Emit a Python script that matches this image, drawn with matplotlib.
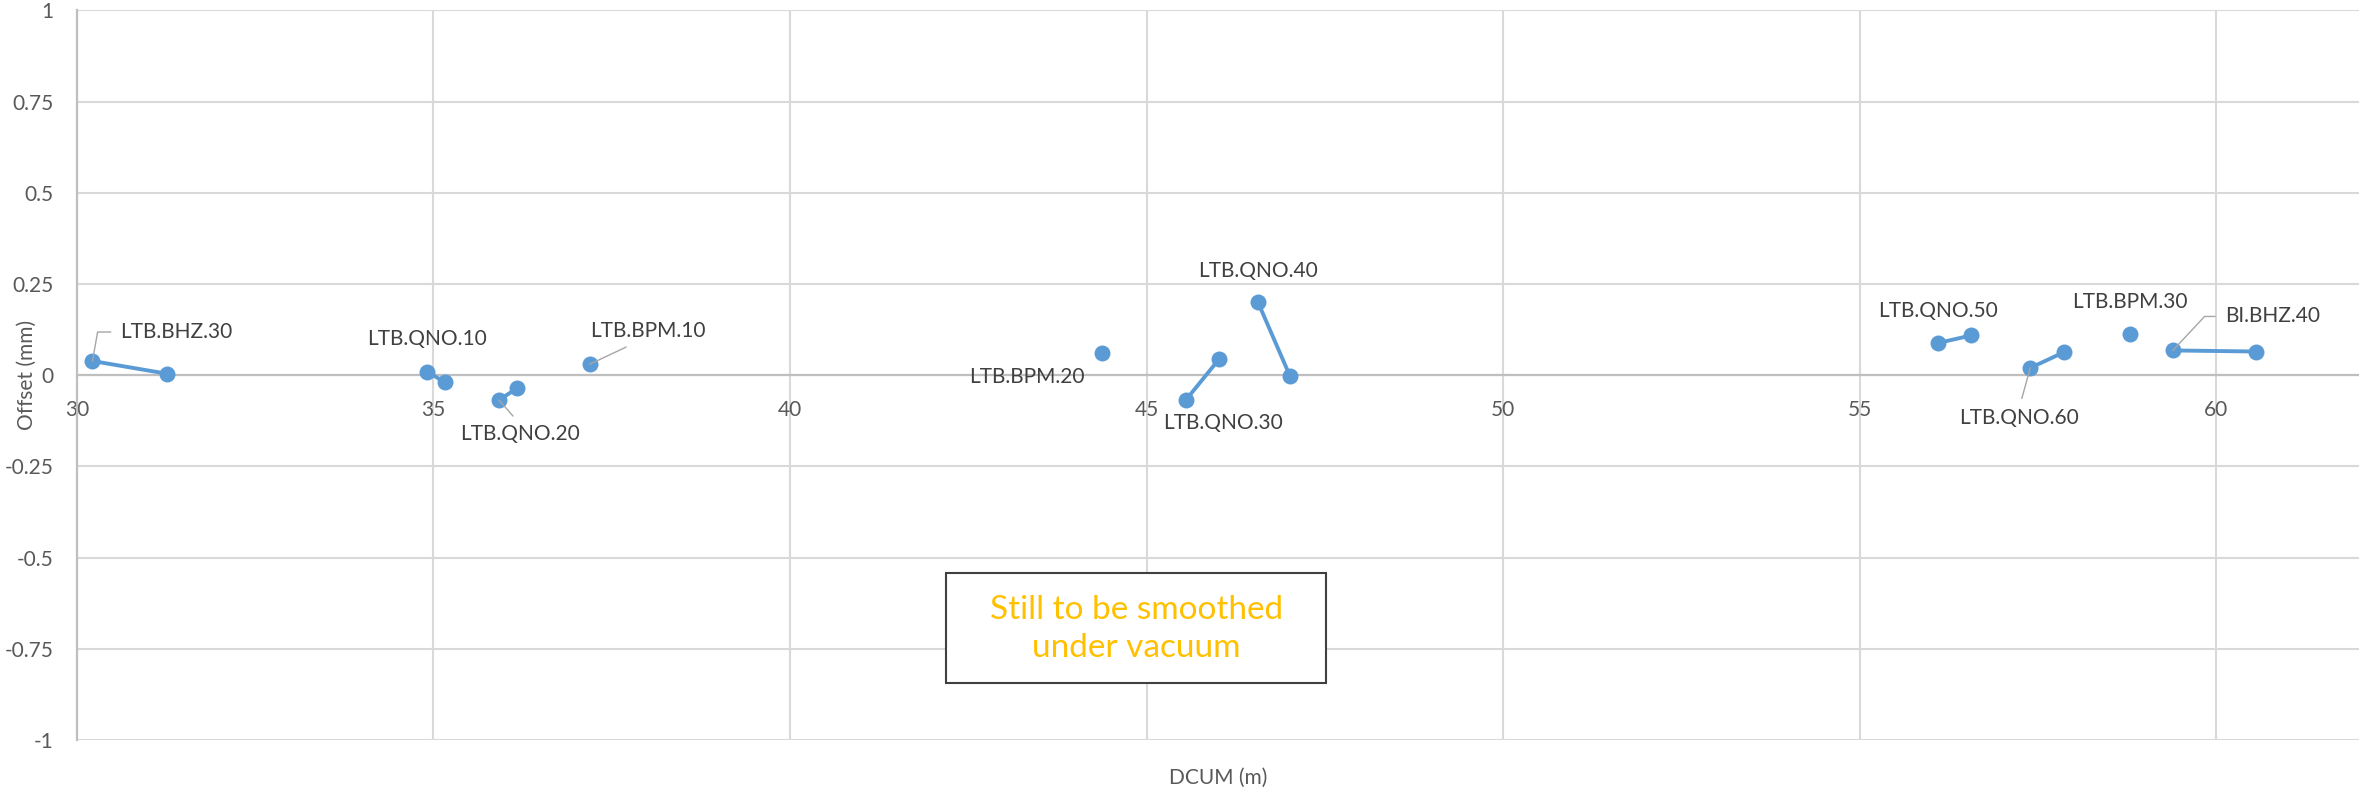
import numpy as np
import matplotlib
matplotlib.use("Agg")
import matplotlib.pyplot as plt
from matplotlib.patches import Rectangle

plt.rcParams['font.family'] = ['Lato', 'DejaVu Sans']

# Measured points (DCUM in m, offset in mm), grouped by element
dcum = [30.22, 31.27, 34.91, 35.16, 35.92, 36.17, 37.19, 44.38, 45.55, 46.02,
        46.56, 47.01, 56.09, 56.56, 57.39, 57.86, 58.79, 59.39, 60.56]
offset = [0.039, 0.004, 0.010, -0.019, -0.068, -0.036, 0.030, 0.062, -0.068, 0.045,
          0.201, -0.002, 0.088, 0.109, 0.020, 0.063, 0.114, 0.068, 0.065]
element = ['LTB.BHZ.30', 'LTB.BHZ.30', 'LTB.QNO.10', 'LTB.QNO.10',
           'LTB.QNO.20', 'LTB.QNO.20', 'LTB.BPM.10', 'LTB.BPM.20',
           'LTB.QNO.30', 'LTB.QNO.30', 'LTB.QNO.40', 'LTB.QNO.40',
           'LTB.QNO.50', 'LTB.QNO.50', 'LTB.QNO.60', 'LTB.QNO.60',
           'LTB.BPM.30', 'BI.BHZ.40', 'BI.BHZ.40']

x_ticks = [30, 35, 40, 45, 50, 55, 60]
y_ticks = [-1, -0.75, -0.5, -0.25, 0, 0.25, 0.5, 0.75, 1]
y_tick_labels = ['-1', '-0.75', '-0.5', '-0.25', '0', '0.25', '0.5', '0.75', '1']

note = 'Still to be smoothed\nunder vacuum'

# label placement: offset in pixels from the first point, alignment, leader style
label_style = {
    'LTB.BHZ.30': dict(off=(28, 29), ha='left', leader='angle,angleA=0,angleB=80', rel=(0, 0.5)),
    'LTB.QNO.10': dict(off=(0, 33), ha='center'),
    'LTB.QNO.20': dict(off=(21, -34), ha='center', leader='arc3', rel=(0.5, 1.0)),
    'LTB.BPM.10': dict(off=(58, 33), ha='center', leader='arc3', rel=(0.42, 0.0)),
    'LTB.BPM.20': dict(off=(-75, -24), ha='center'),
    'LTB.QNO.30': dict(off=(37, -23), ha='center'),
    'LTB.QNO.40': dict(off=(0, 31), ha='center'),
    'LTB.QNO.50': dict(off=(0, 32), ha='center'),
    'LTB.QNO.60': dict(off=(-11, -50), ha='center', leader='arc3', rel=(0.5, 1.0)),
    'LTB.BPM.30': dict(off=(0, 32), ha='center'),
    'BI.BHZ.40': dict(off=(52, 34), ha='left', leader='angle,angleA=0,angleB=47', rel=(0, 0.5)),
}

blue = '#5B9BD5'
grid_c = '#D9D9D9'
axis_c = '#BFBFBF'
text_c = '#404040'
tick_c = '#595959'
fs = 15

fig = plt.figure(figsize=(23.59, 7.94), dpi=100)
ax = fig.add_axes([0.03256, 0.068, 0.96744, 0.9188])

dcum_a = np.array(dcum)
off_a = np.array(offset)
elem_a = np.array(element)

names = list(dict.fromkeys(element))
for name in names:
    m = elem_a == name
    ax.plot(dcum_a[m], off_a[m], color=blue, lw=2.8, marker='o', ms=11.5,
            markeredgewidth=0, zorder=4, solid_capstyle='round')

for name in names:
    m = np.where(elem_a == name)[0][0]
    st = label_style[name]
    kw = {}
    if 'leader' in st:
        kw['arrowprops'] = dict(arrowstyle='-', color='#A6A6A6', lw=1.0,
                                connectionstyle=st['leader'], relpos=st['rel'],
                                shrinkA=5, shrinkB=0)
    ax.annotate(name, xy=(dcum[m], offset[m]), xytext=st['off'],
                textcoords='offset pixels', ha=st['ha'], va='center',
                fontsize=fs, color=text_c, zorder=5, **kw)

ax.set_xlim(30, 62)
ax.set_ylim(-1, 1)
ax.set_xticks(x_ticks)
ax.set_yticks(y_ticks)
ax.set_yticklabels(y_tick_labels)

ax.grid(True, color=grid_c, lw=1.5, zorder=0)
ax.set_axisbelow(True)
for s in ['top', 'right']:
    ax.spines[s].set_visible(False)
ax.spines['bottom'].set_position(('data', 0))
ax.spines['bottom'].set_color(axis_c)
ax.spines['bottom'].set_linewidth(1.6)
ax.spines['bottom'].set_zorder(2)
ax.spines['left'].set_color(axis_c)
ax.spines['left'].set_linewidth(1.6)

ax.tick_params(axis='both', length=0, labelsize=fs, labelcolor=tick_c)
ax.tick_params(axis='x', pad=18)
ax.tick_params(axis='y', pad=17)

ax.set_xlabel('DCUM (m)', fontsize=fs, color=tick_c, va='center')
ax.xaxis.set_label_coords(0.5, -0.052)
ax.set_ylabel('Offset (mm)', fontsize=fs, color=tick_c, va='center')
ax.yaxis.set_label_coords(-0.022, 0.5)

# note box
ax.add_patch(Rectangle((42.19, -0.844), 5.33, 0.301, facecolor='white',
                       edgecolor='#404040', lw=1.5, zorder=6))
ax.text(44.86, -0.696, note, ha='center', va='center', fontsize=24,
        color='#FFC000', linespacing=1.35, zorder=7)

fig.savefig('out.png', dpi=100)
